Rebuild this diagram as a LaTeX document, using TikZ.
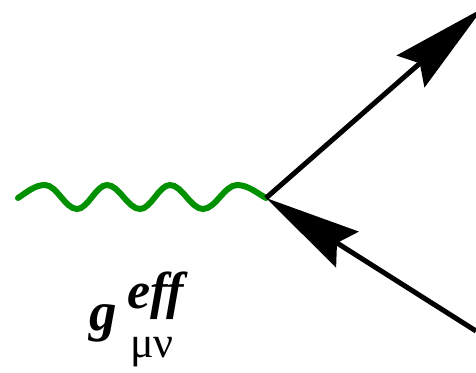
\documentclass[tikz,border=0pt]{standalone}
\usepackage{fontspec}
\setmainfont{Liberation Serif}
\usetikzlibrary{arrows.meta}
\definecolor{wavegreen}{RGB}{0,145,0}
\tikzset{
  wave/.style={draw=wavegreen, line width=6pt, line cap=round},
  fermion/.style={draw=black, line width=5pt,
    -{Stealth[length=96pt, width=42pt, inset=12pt]}},
  lbl/.style={inner sep=0pt, anchor=base west}
}
\begin{document}
\begin{tikzpicture}[x=1pt,y=-1pt]
\useasboundingbox (0,0) rectangle (476,372);
\clip (0,0) rectangle (476,372);
\coordinate (ws) at (18,198);
\coordinate (v) at (266,198);
\coordinate (out) at (483,8);
\coordinate (in) at (476,331);
% photon-like wavy line
\draw[wave] (ws) .. controls (27,192) and (35,185) .. (45,185)
  .. controls (56.6,185) and (65.4,209) .. (77,209)
  .. controls (87.9,209) and (96.1,185) .. (107,185)
  .. controls (119,185) and (128,209) .. (140,209)
  .. controls (150.9,209) and (159.1,185) .. (170,185)
  .. controls (182,185) and (191,209) .. (203,209)
  .. controls (215.4,209) and (224.6,185) .. (237,185)
  .. controls (248,185) and (257,193) .. (v);
% fermion lines
\draw[fermion] (v) -- (out);
\draw[fermion] (in) -- (v);
% label
\node[lbl, font=\fontsize{55}{55}\selectfont\bfseries\itshape] (g) at (89,330) {g};
\node[lbl, font=\fontsize{52}{52}\selectfont\bfseries\itshape] (eff) at (127,308) {eff};
\node[lbl, font=\fontsize{44}{44}\selectfont] (mn) at (130,357) {μν};
\end{tikzpicture}
\end{document}
